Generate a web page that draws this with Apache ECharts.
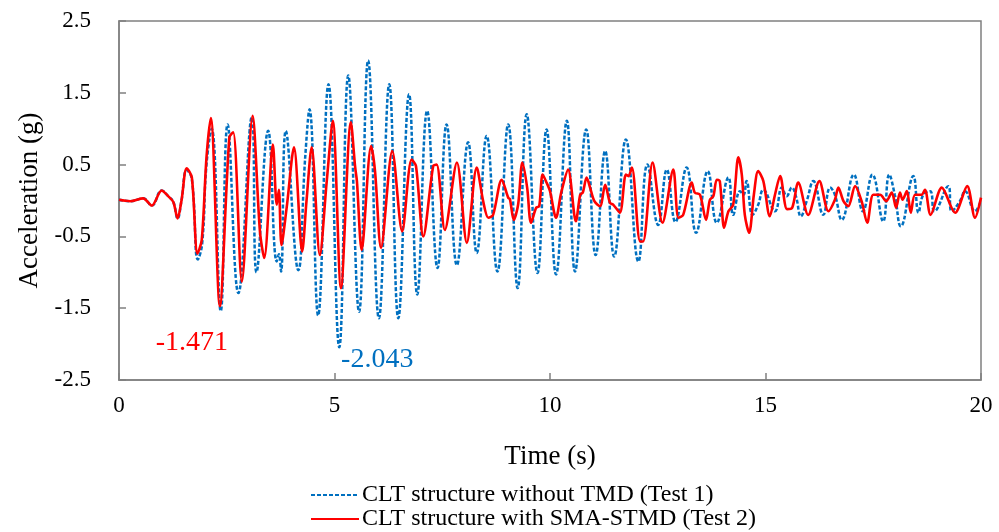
<!DOCTYPE html>
<html>
<head>
<meta charset="utf-8">
<script src="https://cdn.jsdelivr.net/npm/echarts@6/dist/echarts.min.js"></script>
<style>html,body{margin:0;padding:0;background:#fff}#c{width:999px;height:532px}</style>
</head>
<body>
<div id="c"></div>
<script>
// Test 1: CLT structure without TMD (blue dashed)
var timeTest1 = [0.00,0.26,0.56,0.76,0.99,1.14,1.26,1.36,1.45,1.57,1.69,1.83,1.93,2.03,2.15,2.36,2.52,2.77,3.08,3.19,3.46,3.66,3.71,3.76,3.87,4.16,4.32,4.42,4.62,4.86,5.11,5.32,5.57,5.78,6.03,6.27,6.48,6.73,6.92,7.15,7.39,7.60,7.84,8.10,8.30,8.53,8.78,9.03,9.25,9.46,9.71,9.92,10.14,10.39,10.58,10.84,11.06,11.28,11.49,11.76,12.05,12.26,12.51,12.71,12.91,13.17,13.39,13.66,13.87,14.14,14.25,14.41,14.49,14.56,14.70,14.83,14.95,15.22,15.38,15.49,15.61,15.71,15.82,15.96,16.11,16.34,16.50,16.61,16.77,17.05,17.26,17.48,17.73,17.87,18.00,18.14,18.43,18.55,18.66,18.82,18.92,19.24,19.32,19.51,19.63,19.86,19.98];
var accTest1 = [0.01,-0.01,0.03,-0.07,0.14,0.06,-0.02,-0.25,0.0,0.42,0.3,-0.82,-0.6,0.5,1.0,-1.54,1.06,-1.29,1.16,-1.0,0.97,-0.85,-0.75,-0.99,0.97,-0.97,0.6,1.27,-1.6,1.62,-2.043,1.74,-1.55,1.95,-1.64,1.62,-1.64,1.48,-1.31,1.25,-0.94,1.06,-0.9,0.81,-0.73,0.9,-0.99,1.06,-1.22,1.2,-1.01,0.99,-1.03,1.11,-0.99,0.99,-0.76,0.69,-0.78,0.85,-0.85,0.5,-0.34,0.43,-0.3,0.46,-0.45,0.41,-0.31,0.32,-0.2,0.13,0.08,0.27,-0.2,-0.06,0.15,-0.15,0.18,0.06,0.18,0.05,-0.22,0.0,0.27,-0.2,0.18,0.08,-0.27,0.36,-0.15,0.36,-0.29,0.36,0.08,-0.36,0.34,-0.17,0.08,0.13,-0.15,0.2,-0.15,-0.01,0.13,-0.15,-0.03];

// Test 2: CLT structure with SMA-STMD (red solid)
var timeTest2 = [0.00,0.26,0.56,0.76,0.99,1.14,1.26,1.36,1.45,1.57,1.69,1.82,1.92,2.03,2.13,2.34,2.56,2.65,2.85,3.10,3.27,3.37,3.57,3.66,3.71,3.77,3.89,4.06,4.25,4.35,4.47,4.66,4.82,4.96,5.15,5.38,5.48,5.52,5.63,5.85,5.94,6.08,6.34,6.57,6.79,6.89,7.06,7.29,7.37,7.56,7.84,8.07,8.30,8.45,8.57,8.68,8.88,9.03,9.07,9.16,9.26,9.36,9.47,9.56,9.68,9.75,9.83,9.92,10.00,10.14,10.26,10.42,10.60,10.70,10.76,10.85,10.93,11.03,11.16,11.28,11.39,11.47,11.62,11.76,11.82,11.90,12.09,12.16,12.38,12.61,12.86,12.98,13.09,13.29,13.36,13.48,13.62,13.71,13.79,13.87,13.94,14.04,14.14,14.25,14.37,14.45,14.52,14.62,14.73,14.83,14.95,15.10,15.22,15.34,15.50,15.62,15.76,15.99,16.25,16.46,16.61,16.69,16.81,16.92,17.08,17.23,17.36,17.50,17.66,17.80,17.93,18.03,18.12,18.18,18.28,18.37,18.47,18.62,18.70,18.83,19.09,19.40,19.68,19.86,20.00];
var accTest2 = [0.01,-0.01,0.03,-0.07,0.14,0.06,-0.02,-0.25,0.0,0.45,0.32,-0.74,-0.55,0.6,1.15,-1.471,0.88,0.95,-1.13,1.18,-0.43,-0.8,0.78,-0.06,0.15,-0.62,-0.1,0.74,-0.71,-0.01,0.74,-0.76,0.27,1.11,-1.22,1.09,0.46,0.27,-0.69,0.76,0.41,-0.66,0.69,-0.43,0.57,0.48,-0.5,0.48,0.5,-0.41,0.53,-0.59,0.46,-0.01,-0.24,-0.2,0.29,0.04,0.02,-0.27,-0.06,0.53,0.18,-0.31,-0.1,-0.08,0.36,0.25,0.13,-0.24,0.11,0.43,-0.29,0.08,0.11,0.32,0.18,-0.01,-0.08,0.22,-0.03,-0.06,-0.17,0.36,0.34,0.46,-0.57,-0.57,0.53,-0.31,0.43,-0.24,-0.2,0.25,0.11,0.08,-0.27,0.01,0.06,0.29,0.27,-0.38,-0.15,-0.06,0.6,0.36,-0.2,-0.45,0.08,0.41,0.27,-0.22,0.08,0.34,-0.12,-0.1,0.25,-0.2,0.27,-0.15,0.01,0.18,-0.01,-0.08,0.2,-0.01,-0.31,0.08,0.08,-0.01,0.11,-0.1,0.11,0.01,0.13,-0.17,0.08,0.08,0.15,-0.2,0.18,-0.17,0.2,-0.24,0.04];

var seriesNames = ['CLT structure without TMD (Test 1)', 'CLT structure with SMA-STMD (Test 2)'];
var xTicks = [0, 20, 5];      // min, max, interval
var yTicks = [-2.5, 2.5, 1];  // min, max, interval
var peakTest1 = [5.11, -2.043];
var peakTest2 = [2.34, -1.471];

function pairs(t, v) { return t.map(function (x, i) { return [x, v[i]]; }); }

var FONT = 'Liberation Serif, Times New Roman, serif';
var chart = echarts.init(document.getElementById('c'), null, { renderer: 'canvas' });
chart.setOption({
  animation: false,
  backgroundColor: '#ffffff',
  grid: { left: 119, right: 18, top: 21, bottom: 152, show: true, borderColor: '#808080', borderWidth: 1.5, backgroundColor: 'transparent' },
  legend: {
    orient: 'vertical', left: 310, top: 483, padding: 0, itemGap: 0,
    itemWidth: 48, itemHeight: 14,
    itemStyle: { opacity: 0 },
    textStyle: { fontFamily: FONT, fontSize: 24, color: '#000', lineHeight: 24, padding: [0, 0, 0, -2] },
    data: seriesNames
  },
  xAxis: {
    type: 'value', min: xTicks[0], max: xTicks[1], interval: xTicks[2],
    name: 'Time (s)', nameLocation: 'middle', nameGap: 63,
    nameTextStyle: { fontFamily: FONT, fontSize: 27, color: '#000' },
    axisLine: { show: true, onZero: false, lineStyle: { color: '#808080', width: 1.5 } },
    axisTick: { show: true, inside: true, length: 7, lineStyle: { color: '#808080', width: 1.5 } },
    axisLabel: { fontFamily: FONT, fontSize: 23, color: '#000', margin: 14 },
    splitLine: { show: false }
  },
  yAxis: {
    type: 'value', min: yTicks[0], max: yTicks[1], interval: yTicks[2],
    name: 'Acceleration (g)', nameLocation: 'middle', nameGap: 73, nameRotate: 90,
    nameTextStyle: { fontFamily: FONT, fontSize: 27, color: '#000' },
    axisLine: { show: true, onZero: false, lineStyle: { color: '#808080', width: 1.5 } },
    axisTick: { show: true, inside: true, length: 7, lineStyle: { color: '#808080', width: 1.5 } },
    axisLabel: { fontFamily: FONT, fontSize: 23, color: '#000', margin: 28 },
    splitLine: { show: false }
  },
  series: [
    {
      name: seriesNames[0], type: 'line', symbol: 'none', smooth: 0.45,
      data: pairs(timeTest1, accTest1),
      lineStyle: { color: '#0070C0', width: 2.5, type: [4, 2] },
      itemStyle: { color: '#0070C0' },
      z: 2,
      markPoint: {
        symbol: 'circle', symbolSize: 0,
        data: [{ coord: peakTest1, value: peakTest1[1] }],
        label: { show: true, position: 'inside', offset: [38, 12], formatter: String(peakTest1[1]), fontFamily: FONT, fontSize: 28, color: '#0070C0' }
      }
    },
    {
      name: seriesNames[1], type: 'line', symbol: 'none', smooth: 0.3,
      data: pairs(timeTest2, accTest2),
      lineStyle: { color: '#FF0000', width: 2.6 },
      itemStyle: { color: '#FF0000' },
      z: 3,
      markPoint: {
        symbol: 'circle', symbolSize: 0,
        data: [{ coord: peakTest2, value: peakTest2[1] }],
        label: { show: true, position: 'inside', offset: [-28, 37], formatter: String(peakTest2[1]), fontFamily: FONT, fontSize: 28, color: '#FF0000' }
      }
    }
  ]
});
</script>
</body>
</html>
